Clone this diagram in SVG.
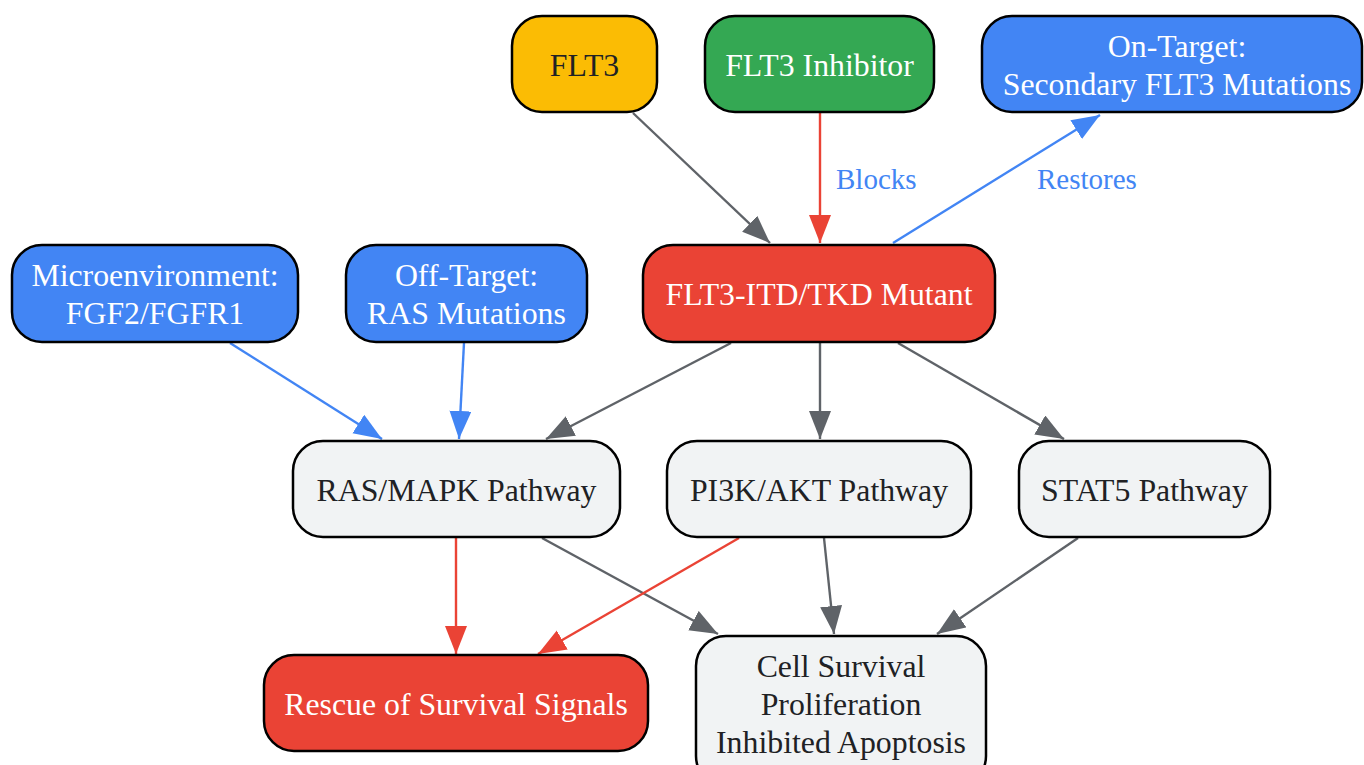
<svg xmlns="http://www.w3.org/2000/svg" width="1364" height="765" viewBox="0 0 1364 765">
<style>
.n rect{stroke:#000;stroke-width:2.5}
.t{font-family:"Liberation Serif","Times New Roman",serif;font-size:31.8px;text-anchor:middle}
.w{fill:#fff}.d{fill:#202124}
.lbl{font-family:"Liberation Serif","Times New Roman",serif;font-size:29px;fill:#4285F4}
.e{fill:none;stroke-width:2.4}
.g{stroke:#5F6368}.r{stroke:#EA4335}.b{stroke:#4285F4}
</style>
<defs>
<marker id="ag" markerUnits="userSpaceOnUse" markerWidth="30" markerHeight="24" refX="28" refY="11" orient="auto"><polygon points="0,0 28,11 0,22" fill="#5F6368"/></marker>
<marker id="ar" markerUnits="userSpaceOnUse" markerWidth="30" markerHeight="24" refX="28" refY="11" orient="auto"><polygon points="0,0 28,11 0,22" fill="#EA4335"/></marker>
<marker id="ab" markerUnits="userSpaceOnUse" markerWidth="30" markerHeight="24" refX="28" refY="11" orient="auto"><polygon points="0,0 28,11 0,22" fill="#4285F4"/></marker>
</defs>
<rect width="1364" height="765" fill="#fff"/>
<g id="edges">
<path class="e g" d="M633,113 L770,243" marker-end="url(#ag)"/>
<path class="e r" d="M820,113 L820,243" marker-end="url(#ar)"/>
<text class="lbl" x="836" y="189">Blocks</text>
<path class="e b" d="M893,243 L1100,115" marker-end="url(#ab)"/>
<text class="lbl" x="1037" y="189">Restores</text>
<path class="e b" d="M230,343 L382,439" marker-end="url(#ab)"/>
<path class="e b" d="M464,343 L459,439" marker-end="url(#ab)"/>
<path class="e g" d="M731,343 L546,439" marker-end="url(#ag)"/>
<path class="e g" d="M820,343 L820,439" marker-end="url(#ag)"/>
<path class="e g" d="M898,343 L1064,439" marker-end="url(#ag)"/>
<path class="e r" d="M456,538 L456,654" marker-end="url(#ar)"/>
<path class="e g" d="M542,538 L718,634" marker-end="url(#ag)"/>
<path class="e r" d="M739,538 L538,654" marker-end="url(#ar)"/>
<path class="e g" d="M824,538 L834,634" marker-end="url(#ag)"/>
<path class="e g" d="M1078,538 L937,634" marker-end="url(#ag)"/>
</g>
<g id="flt3" class="n"><rect x="512" y="16" width="145" height="96" rx="30" fill="#FBBC04"/><text class="t d" x="584.5" y="76">FLT3</text></g>
<g id="inhibitor" class="n"><rect x="705" y="16" width="229" height="96" rx="30" fill="#34A853"/><text class="t w" x="819.5" y="76">FLT3 Inhibitor</text></g>
<g id="ontarget" class="n"><rect x="982" y="16" width="380" height="96" rx="30" fill="#4285F4"/><text class="t w" x="1177" y="57">On-Target:</text><text class="t w" x="1177" y="95">Secondary FLT3 Mutations</text></g>
<g id="micro" class="n"><rect x="12" y="245" width="286" height="97" rx="30" fill="#4285F4"/><text class="t w" x="155" y="286">Microenvironment:</text><text class="t w" x="155" y="324">FGF2/FGFR1</text></g>
<g id="offtarget" class="n"><rect x="346" y="245" width="241" height="97" rx="30" fill="#4285F4"/><text class="t w" x="466.5" y="286">Off-Target:</text><text class="t w" x="466.5" y="324">RAS Mutations</text></g>
<g id="mutant" class="n"><rect x="643" y="245" width="352" height="97" rx="30" fill="#EA4335"/><text class="t w" x="819" y="305">FLT3-ITD/TKD Mutant</text></g>
<g id="rasmapk" class="n"><rect x="293" y="441" width="327" height="96" rx="30" fill="#F1F3F4"/><text class="t d" x="456.5" y="501">RAS/MAPK Pathway</text></g>
<g id="pi3k" class="n"><rect x="667" y="441" width="304" height="96" rx="30" fill="#F1F3F4"/><text class="t d" x="819" y="501">PI3K/AKT Pathway</text></g>
<g id="stat5" class="n"><rect x="1019" y="441" width="251" height="96" rx="30" fill="#F1F3F4"/><text class="t d" x="1144.5" y="501">STAT5 Pathway</text></g>
<g id="rescue" class="n"><rect x="264" y="655" width="384" height="96" rx="30" fill="#EA4335"/><text class="t w" x="456" y="715">Rescue of Survival Signals</text></g>
<g id="survival" class="n"><rect x="696" y="636" width="290" height="150" rx="30" fill="#F1F3F4"/><text class="t d" x="841" y="677">Cell Survival</text><text class="t d" x="841" y="715">Proliferation</text><text class="t d" x="841" y="753">Inhibited Apoptosis</text></g>
</svg>
